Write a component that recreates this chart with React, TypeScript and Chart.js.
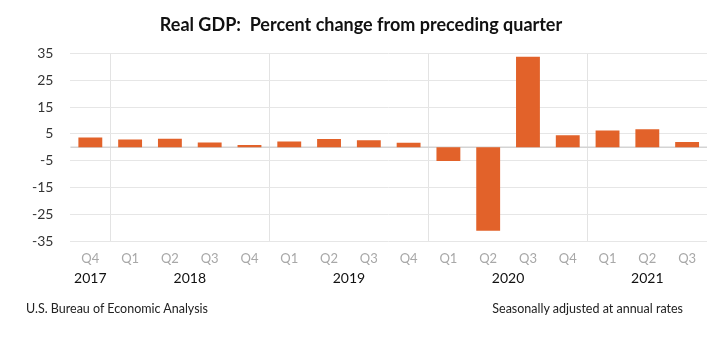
import React, { useEffect, useRef } from 'react';
import { Chart, registerables } from 'chart.js';

Chart.register(...registerables);

const quarterLabels = ['Q4', 'Q1', 'Q2', 'Q3', 'Q4', 'Q1', 'Q2', 'Q3', 'Q4', 'Q1', 'Q2', 'Q3', 'Q4', 'Q1', 'Q2', 'Q3'];
const quarterYears = [2017, 2018, 2018, 2018, 2018, 2019, 2019, 2019, 2019, 2020, 2020, 2020, 2020, 2021, 2021, 2021];
const gdpChange = [3.7, 2.9, 3.2, 1.8, 0.9, 2.2, 3.1, 2.6, 1.7, -5.1, -31.2, 33.8, 4.5, 6.3, 6.7, 2.0];
const yMin = -35;
const yMax = 35;
const yStep = 10;
const titleText = 'Real GDP:  Percent change from preceding quarter';
const sourceText = 'U.S. Bureau of Economic Analysis';
const noteText = 'Seasonally adjusted at annual rates';

const FONT = 'Lato, "Open Sans", sans-serif';

export default function App() {
  const ref = useRef<HTMLCanvasElement | null>(null);

  useEffect(() => {
    document.body.style.margin = '0';
    const years = Array.from(new Set(quarterYears));
    const yearPos = years.map((yr) => {
      const idx = quarterYears.map((y, i) => (y === yr ? i : -1)).filter((i) => i >= 0);
      return idx.reduce((a, b) => a + b, 0) / idx.length;
    });

    const zeroLine = {
      id: 'zeroLine',
      beforeDatasetsDraw(chart: any) {
        const { ctx, chartArea, scales } = chart;
        const y = scales.y.getPixelForValue(0);
        ctx.save();
        ctx.strokeStyle = '#d4d4d4';
        ctx.lineWidth = 1.5;
        ctx.beginPath();
        ctx.moveTo(chartArea.left, y);
        ctx.lineTo(chartArea.right, y);
        ctx.stroke();
        ctx.restore();
      },
    };

    const yearLabels = {
      id: 'yearLabels',
      afterDraw(chart: any) {
        const { ctx, chartArea, scales } = chart;
        ctx.save();
        ctx.fillStyle = '#111';
        ctx.font = `14px ${FONT}`;
        ctx.textAlign = 'center';
        ctx.textBaseline = 'middle';
        years.forEach((yr, i) => {
          ctx.fillText(String(yr), scales.x.getPixelForValue(yearPos[i]), chartArea.bottom + 37.5);
        });
        ctx.restore();
      },
    };

    const chart = new Chart(ref.current as HTMLCanvasElement, {
      type: 'bar',
      data: {
        labels: quarterLabels,
        datasets: [
          {
            data: gdpChange,
            backgroundColor: '#e2622a',
            borderWidth: 0,
            barPercentage: 0.6,
            categoryPercentage: 1,
          },
        ],
      },
      options: {
        animation: false,
        responsive: false,
        maintainAspectRatio: false,
        layout: { padding: { left: 15, right: 4, top: 0, bottom: 72 } },
        plugins: {
          legend: { display: false },
          tooltip: { enabled: false },
          title: {
            display: true,
            text: titleText,
            color: '#111',
            font: { family: FONT, size: 18, weight: 'bold' },
            padding: { top: 14, bottom: 18 },
          },
        },
        scales: {
          x: {
            type: 'category',
            offset: true,
            grid: {
              offset: true,
              drawTicks: false,
              color: (ctx: any) =>
                ctx.index > 0 && ctx.index < quarterYears.length && quarterYears[ctx.index] !== quarterYears[ctx.index - 1]
                  ? '#e3e3e3'
                  : 'rgba(0,0,0,0)',
            },
            border: { display: false },
            ticks: {
              color: '#a8a8a8',
              font: { family: FONT, size: 13, lineHeight: 1 },
              padding: 11,
              maxRotation: 0,
              autoSkip: false,
            },
          },
          y: {
            min: yMin,
            max: yMax,
            grid: { color: '#e6e6e6', drawTicks: false },
            border: { display: false },
            ticks: {
              stepSize: yStep,
              color: '#333',
              padding: 17,
              font: { family: FONT, size: 14 },
            },
          },
        },
      },
      plugins: [zeroLine, yearLabels],
    });
    return () => chart.destroy();
  }, []);

  return (
    <div style={{ position: 'fixed', left: 0, top: 0, width: 711, height: 348, background: '#fff' }}>
      <canvas ref={ref} width={711} height={348} style={{ display: 'block' }} />
      <div style={{ position: 'absolute', left: 26, top: 301, fontFamily: FONT, fontSize: 12.5, color: '#222', whiteSpace: 'nowrap' }}>
        {sourceText}
      </div>
      <div style={{ position: 'absolute', right: 28, top: 301, fontFamily: FONT, fontSize: 12.5, color: '#222', whiteSpace: 'nowrap' }}>
        {noteText}
      </div>
    </div>
  );
}
